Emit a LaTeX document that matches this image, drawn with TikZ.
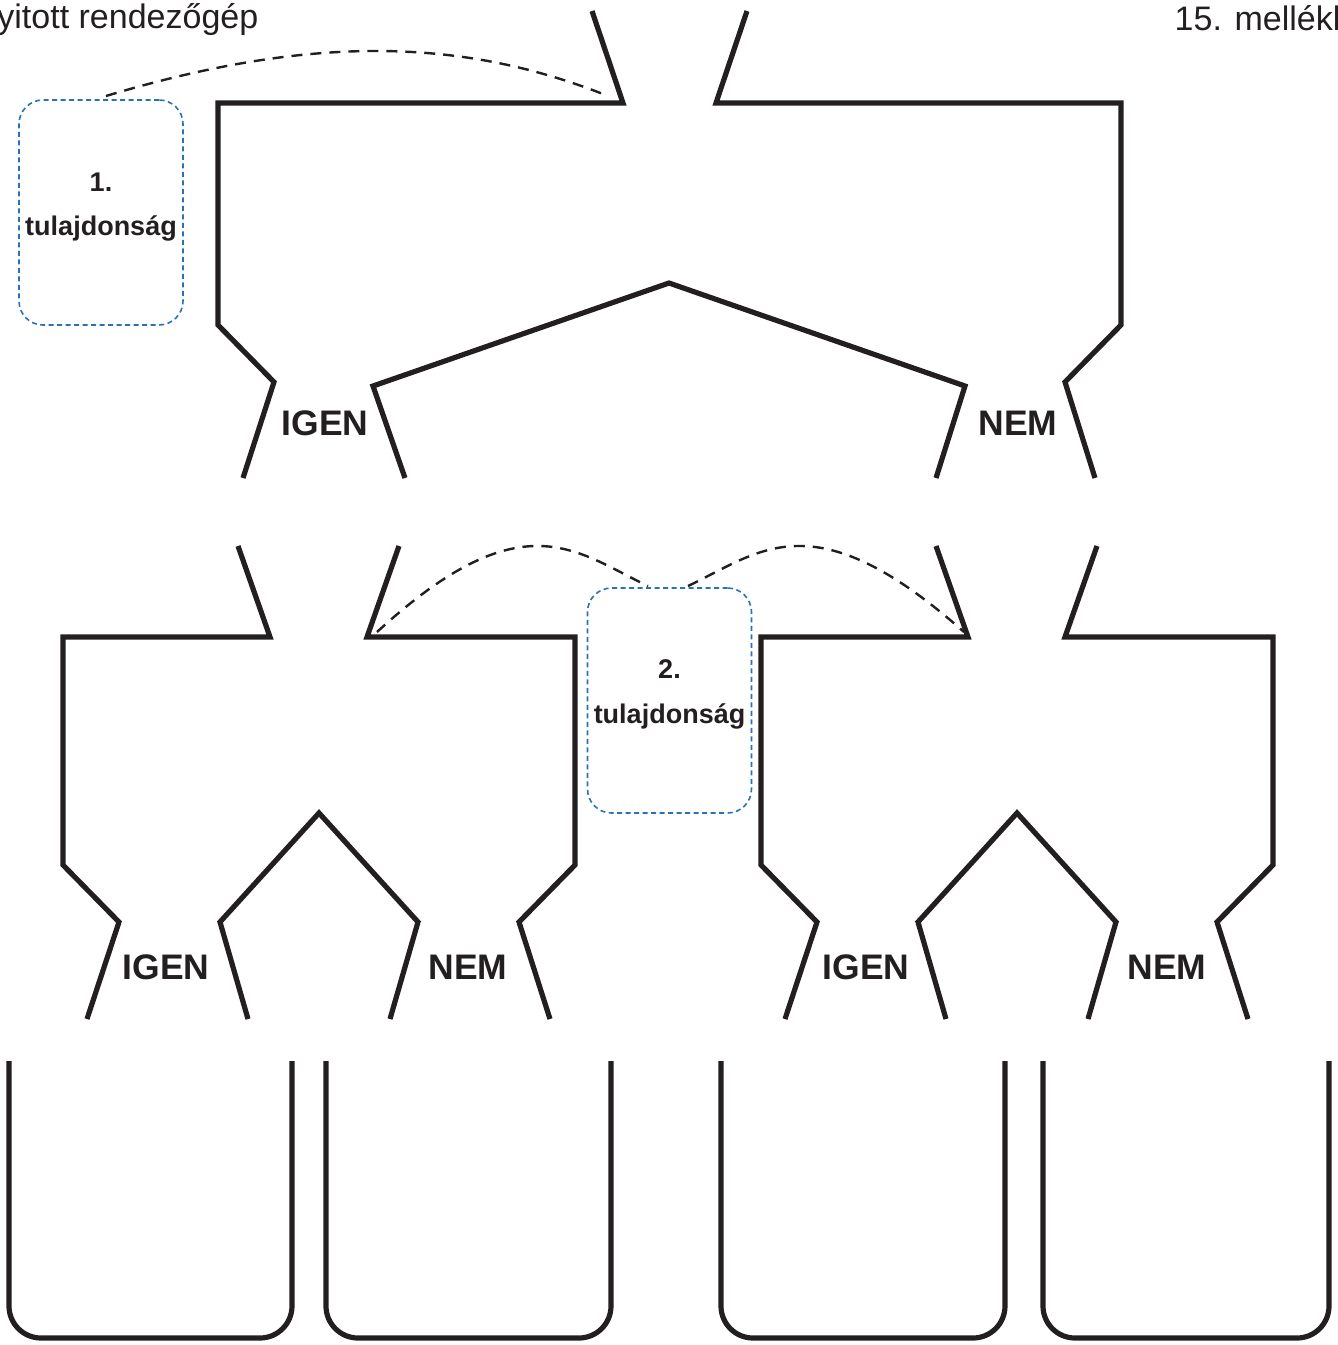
\documentclass[tikz,border=0pt]{standalone}
\usepackage{fontspec}
\setmainfont{Liberation Sans}
\definecolor{inkblack}{HTML}{231F20}
\definecolor{guideblue}{HTML}{2A72B8}

\newcommand{\LowerFunnel}{%
    \coordinate (LA) at (238,546);
    \coordinate (LB) at (270,637);
    \coordinate (LC) at (63,637);
    \coordinate (LD) at (63,865);
    \coordinate (LE) at (119,922);
    \coordinate (LF) at (87,1019);
    \coordinate (RA) at (399,546);
    \coordinate (RB) at (367,637);
    \coordinate (RC) at (575,637);
    \coordinate (RD) at (575,865);
    \coordinate (RE) at (519,922);
    \coordinate (RF) at (550,1019);
    \coordinate (IL) at (248,1019);
    \coordinate (IA) at (220,922);
    \coordinate (IP) at (319,813);
    \coordinate (IB) at (418,922);
    \coordinate (IR) at (390,1019);
    \draw[funneledge] (LA)--(LB)--(LC)--(LD)--(LE)--(LF);
    \draw[funneledge] (RA)--(RB)--(RC)--(RD)--(RE)--(RF);
    \draw[funneledge] (IL)--(IA)--(IP)--(IB)--(IR);
}

\begin{document}
\begin{tikzpicture}[
    x=1pt,y=-1pt,
    line join=miter,
    funneledge/.style={draw=inkblack, line width=5.2pt},
    binedge/.style={draw=inkblack, line width=5.2pt, rounded corners=32pt},
    guidearc/.style={draw=inkblack, line width=2.4pt, dash pattern=on 11pt off 8pt},
    propbox/.style={draw=guideblue, line width=1.6pt, dash pattern=on 5pt off 3.5pt,
        rounded corners=24pt, minimum width=164pt, minimum height=225pt, inner sep=0pt},
    proplab/.style={anchor=base, font=\fontsize{27}{30}\selectfont\bfseries, text=inkblack, inner sep=0pt},
    answerlab/.style={anchor=base, font=\fontsize{35.5}{40}\selectfont\bfseries, text=inkblack, inner sep=0pt},
    headlab/.style={font=\fontsize{34}{40}\selectfont, text=inkblack, inner sep=0pt}
]
\useasboundingbox (0,0) rectangle (1338,1345);


\node[headlab, anchor=base east] (title) at (258.5,28) {Nyitott rendezőgép};
\node[headlab, anchor=base west] (annex) at (1174.5,30) {15. melléklet};


\begin{scope}
    \coordinate (A) at (592,11);
    \coordinate (B) at (623,103);
    \coordinate (C) at (218,103);
    \coordinate (D) at (218,325);
    \coordinate (E) at (274,382);
    \coordinate (F) at (243,478);
    \coordinate (G) at (747,11);
    \coordinate (H) at (716,103);
    \coordinate (I) at (1121,103);
    \coordinate (J) at (1121,325);
    \coordinate (K) at (1065,382);
    \coordinate (L) at (1095,478);
    \coordinate (M) at (405,478);
    \coordinate (N) at (373,386);
    \coordinate (P) at (669,283);
    \coordinate (Q) at (965,386);
    \coordinate (R) at (936,478);


    \draw[funneledge] (A)--(B)--(C)--(D)--(E)--(F);
    \draw[funneledge] (G)--(H)--(I)--(J)--(K)--(L);
    \draw[funneledge] (M)--(N)--(P)--(Q)--(R);


    \node[answerlab] (yes0) at (325,435) {IGEN};
    \node[answerlab] (no0) at (1018,435) {NEM};
\end{scope}


\foreach \s/\i in {0/1,698/2} {
    \begin{scope}[shift={(\s,0)}]
        \LowerFunnel
    \end{scope}
}


\node[answerlab] (yes1) at (166,979) {IGEN};
\node[answerlab] (no1) at (468,979) {NEM};
\node[answerlab] (yes2) at (866,979) {IGEN};
\node[answerlab] (no2) at (1167,979) {NEM};


\node[propbox] (prop1) at (101,212.5) {};
\node[proplab] (prop1a) at (101,191) {1.};
\node[proplab] (prop1b) at (101,235) {tulajdonság};

\node[propbox] (prop2) at (669.5,700.5) {};
\node[proplab] (prop2a) at (669.5,678) {2.};
\node[proplab] (prop2b) at (669.5,723) {tulajdonság};


\coordinate (top1) at (106,96);
\coordinate (spout1) at (608,96);
\draw[guidearc] (top1) .. controls (312,34) and (463,38) .. (spout1);

\coordinate (spout2) at (377,632);
\coordinate (top2l) at (648,586);
\coordinate (top2r) at (688,586);
\coordinate (spout3) at (964,632);
\draw[guidearc] (spout2) .. controls (523,498) and (576,552) .. (top2l);
\draw[guidearc] (top2r) .. controls (760,552) and (813,498) .. (spout3);


\foreach \xa/\xb in {9/292, 326/611, 721/1005, 1043/1329} {
    \draw[binedge] (\xa,1061) -- (\xa,1338) -- (\xb,1338) -- (\xb,1061);
}
\end{tikzpicture}
\end{document}
